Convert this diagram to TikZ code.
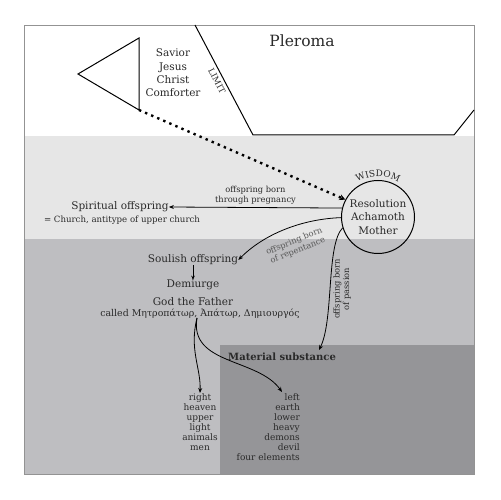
\documentclass[tikz,border=0pt]{standalone}
\usepackage{fontspec}
\setmainfont{DejaVu Serif}
\usetikzlibrary{arrows.meta,decorations.text}
\definecolor{lightg}{HTML}{E6E6E6}
\definecolor{midg}{HTML}{BEBEC1}
\definecolor{darkg}{HTML}{959598}
\definecolor{txt}{HTML}{2A2A2A}
\begin{document}
\begin{tikzpicture}[x=1pt,y=1pt,
  main/.style={font=\fontsize{10.5}{13.3}\selectfont, align=center, inner sep=0pt, text=txt},
  small/.style={font=\fontsize{8.3}{9.5}\selectfont, align=center, inner sep=0pt, text=txt},
  listtxt/.style={font=\fontsize{9}{10}\selectfont, inner sep=0pt, text=txt},
  arr/.style={line width=0.8pt, -{Stealth[length=5pt,width=4pt]}}]
\useasboundingbox (0,0) rectangle (501,500);
\fill[white] (0,0) rectangle (501,500);
% regions
\fill[lightg] (24,261) rectangle (474,364);
\fill[midg] (24,26) rectangle (474,261);
\fill[darkg] (220,26) rectangle (474,155);
\draw[gray!85, line width=0.8pt] (24,26) rectangle (474,475);
% Pleroma boundary
\draw[line width=1pt] (195,475) -- (253,365) -- (454,365) -- (474,390);
\node[main, font=\fontsize{15.5}{18}\selectfont] (pleroma) at (302,459) {Pleroma};
\node[small, rotate=-62, font=\fontsize{8.5}{9}\selectfont] (limit) at (217,419) {LIMIT};
% triangle
\draw[line width=1pt] (78,426) -- (139,462) -- (139,390) -- cycle;
\coordinate (tri) at (139,390);
\node[main] (savior) at (173,427) {Savior\\Jesus\\Christ\\Comforter};
% Wisdom circle
\node[main, circle, draw=black, line width=1pt, minimum size=73pt] (wis) at (378,283) {Resolution\\Achamoth\\Mother};
\path[decorate, decoration={text along path, text align=center,
  text={|\fontsize{9}{9}\selectfont\color{txt}|WISDOM}}] (378,283) ++(128:40.5) arc (128:52:40.5);
% dotted arrow
\draw[line width=2.4pt, dash pattern=on 2.4pt off 4.2pt, -{Stealth[length=6pt,width=6pt]}] (tri) -- (wis.152);
% spiritual offspring
\node[main] (spirit) at (120,293) {Spiritual offspring};
\node[small, font=\fontsize{8.6}{10}\selectfont] (church) at (122,280) {= Church, antitype of upper church};
\draw[arr] (wis.166) -- (spirit.east) node[small, midway, above=3pt] (preg) {offspring born\\through pregnancy};
% soulish
\node[main] (soul) at (193,240) {Soulish offspring};
\node[main] (demi) at (193,215) {Demiurge};
\node[main] (god) at (193,198) {God the Father};
\node[main, font=\fontsize{9.4}{11}\selectfont] (called) at (200,186) {called Μητροπάτωρ, Ἀπάτωρ, Δημιουργός};
\draw[arr] (wis.181) .. controls (302,281) and (264,266) .. (soul.east);
\node[small, rotate=22, text=black!65] (rep) at (296,254) {offspring born\\of repentance};
\draw[arr, line width=0.6pt, -{Stealth[length=4pt,width=3.5pt]}] (soul.south) -- (demi.north);
% passion
\coordinate (mat) at (319,150);
\draw[arr] (wis.197) .. controls (326,255) and (334,180) .. (mat);
\node[small, rotate=90] (pass) at (342,211) {offspring born\\of passion};
% material
\node[main, font=\bfseries\fontsize{10}{12}\selectfont, anchor=west] (material) at (228,143) {Material substance};
% lists
\node[listtxt, align=center, anchor=north] (right) at (200,107) {right\\heaven\\upper\\light\\animals\\men};
\node[listtxt, align=right, anchor=north east] (left) at (300,107) {left\\earth\\lower\\heavy\\demons\\devil\\four elements};
\coordinate (split) at (197,182);
\coordinate (lefttip) at (282,108);
\draw[arr] (split) .. controls (189,150) and (201,132) .. (right.north);
\draw[arr] (split) .. controls (189,135) and (258,142) .. (lefttip);
\end{tikzpicture}
\end{document}
